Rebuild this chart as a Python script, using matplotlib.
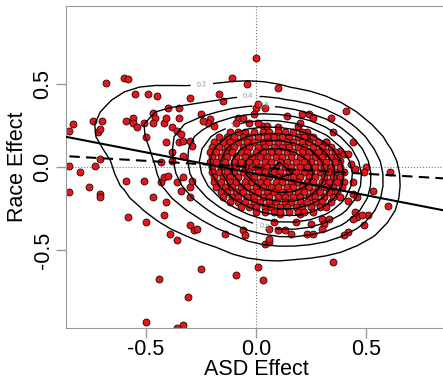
import numpy as np
import matplotlib
matplotlib.use("Agg")
import matplotlib.pyplot as plt

plt.rcParams['font.family'] = ['Liberation Sans', 'DejaVu Sans']
plt.rcParams['axes.unicode_minus'] = False

# scattered points around the main cloud
outer_x = [-0.68, -0.60, -0.58, -0.55, -0.49, -0.45, -0.30, -0.85, -0.83, -0.74,
           -0.70, -0.72, -0.71, -0.59, -0.56, -0.56, -0.54, -0.51, -0.47, -0.46,
           -0.47, -0.42, -0.40, -0.41, -0.35, -0.35, -0.38, -0.41, -0.85, -0.80,
           -0.73, -0.71, -0.59, -0.51, -0.43, -0.38, -0.38, -0.76, -0.85, -0.71,
           -0.71, -0.58, -0.47, -0.41, -0.42, -0.50, -0.43, -0.42, -0.40, -0.36,
           -0.35, -0.33, -0.36, -0.34, -0.30, -0.29, -0.33, -0.30, -0.30, -0.29,
           -0.34, -0.33, -0.50, -0.39, -0.36, -0.30, -0.28, -0.44, -0.31, -0.50,
           -0.33, -0.36, -0.25, -0.09, 0.01, 0.03, -0.14, -0.06, -0.05, 0.04,
           0.06, 0.06, 0.10, 0.13, 0.16, 0.23, 0.26, 0.06, 0.08, 0.18,
           0.25, 0.30, -0.27, 0.11, 0.20, 0.35, 0.60, 0.51, 0.49, 0.42,
           0.40, 0.46, 0.45, 0.44, 0.33, 0.31, 0.30, 0.53, 0.44, 0.35,
           0.32, 0.44, 0.38, 0.40, 0.42, 0.38, 0.43, 0.45, 0.50, 0.49,
           0.61, 0.44, 0.46, 0.48, 0.42, 0.00, -0.11, -0.04, 0.10, -0.15,
           -0.17, 0.00, 0.01, 0.04, 0.41, 0.14, 0.21, 0.24, 0.26, 0.34,
           -0.01, -0.08, -0.06, -0.09, 0.19, 0.20, 0.10, 0.23, 0.25, 0.30,
           0.27, 0.31, 0.03, 0.05, 0.01, -0.25, -0.21, -0.22, -0.24, -0.19,
           -0.03]
outer_y = [0.51, 0.54, 0.53, 0.44, 0.44, 0.43, 0.42, 0.22, 0.26, 0.28,
           0.28, 0.21, 0.23, 0.28, 0.30, 0.27, 0.24, 0.27, 0.33, 0.30,
           0.27, 0.27, 0.36, 0.30, 0.36, 0.30, 0.24, 0.15, 0.01, -0.03,
           0.01, 0.05, -0.08, -0.08, 0.03, 0.04, 0.09, -0.12, -0.15, -0.16,
           -0.18, -0.30, -0.18, -0.21, -0.29, 0.18, -0.09, -0.06, -0.05, -0.09,
           0.15, 0.16, 0.22, 0.20, 0.16, 0.13, -0.06, -0.12, -0.18, -0.08,
           -0.14, 0.07, -0.33, -0.40, -0.44, -0.35, -0.38, -0.67, -0.78, -0.93,
           -0.95, -0.97, -0.61, -0.65, -0.60, -0.68, -0.40, -0.38, -0.41, -0.46,
           -0.45, -0.43, -0.38, -0.38, -0.40, -0.40, -0.40, -0.37, -0.33, -0.33,
           -0.34, -0.31, -0.37, -0.28, -0.28, -0.57, -0.23, -0.29, -0.35, -0.39,
           -0.41, -0.30, -0.27, -0.31, -0.31, -0.34, -0.37, -0.14, -0.16, 0.21,
           0.15, 0.15, 0.10, 0.08, 0.08, 0.04, 0.02, -0.01, 0.00, -0.03,
           -0.03, -0.09, -0.18, -0.29, -0.20, 0.66, 0.54, 0.50, 0.48, 0.40,
           0.44, 0.36, 0.38, 0.36, 0.34, 0.31, 0.32, 0.32, 0.30, 0.30,
           0.32, 0.30, 0.30, 0.27, 0.25, 0.27, 0.24, 0.21, 0.18, 0.13,
           0.09, 0.08, 0.25, 0.25, 0.27, 0.32, 0.29, 0.27, 0.28, 0.25,
           0.27]

# the dense cloud, row by row (points overlap, so these are estimates)
blob_row_y = [0.21, 0.18, 0.15, 0.12, 0.09, 0.06, 0.03, 0.00, -0.03,
              -0.06, -0.09, -0.12, -0.15, -0.18, -0.21, -0.24, -0.27]
blob_row_x = [
    [-0.12, -0.08, -0.05, -0.01, 0.03, 0.06, 0.10, 0.13, 0.17, 0.21],
    [-0.17, -0.13, -0.10, -0.06, -0.03, 0.01, 0.05, 0.08, 0.12, 0.15, 0.19, 0.22, 0.26],
    [-0.19, -0.15, -0.12, -0.08, -0.04, -0.01, 0.03, 0.06, 0.10, 0.14, 0.17, 0.21, 0.24, 0.28, 0.32],
    [-0.20, -0.17, -0.13, -0.10, -0.06, -0.03, 0.01, 0.04, 0.08, 0.12, 0.15, 0.19, 0.22, 0.26, 0.30, 0.34],
    [-0.21, -0.18, -0.14, -0.11, -0.07, -0.04, 0.00, 0.03, 0.07, 0.10, 0.14, 0.17, 0.21, 0.24, 0.28, 0.32, 0.36],
    [-0.20, -0.16, -0.13, -0.09, -0.05, -0.02, 0.02, 0.05, 0.09, 0.12, 0.16, 0.20, 0.23, 0.27, 0.30, 0.34, 0.37],
    [-0.21, -0.18, -0.14, -0.10, -0.07, -0.03, 0.00, 0.04, 0.07, 0.11, 0.14, 0.18, 0.22, 0.25, 0.29, 0.32, 0.36],
    [-0.20, -0.16, -0.12, -0.09, -0.05, -0.02, 0.02, 0.05, 0.09, 0.13, 0.16, 0.20, 0.23, 0.27, 0.31, 0.34, 0.38],
    [-0.20, -0.17, -0.13, -0.10, -0.06, -0.03, 0.01, 0.04, 0.08, 0.11, 0.15, 0.18, 0.22, 0.25, 0.29, 0.33, 0.36, 0.40],
    [-0.19, -0.15, -0.12, -0.08, -0.04, -0.01, 0.03, 0.06, 0.10, 0.13, 0.17, 0.20, 0.24, 0.27, 0.31, 0.35, 0.38],
    [-0.19, -0.16, -0.12, -0.09, -0.05, -0.02, 0.02, 0.05, 0.09, 0.12, 0.16, 0.19, 0.23, 0.26, 0.30, 0.33, 0.37, 0.40],
    [-0.18, -0.14, -0.11, -0.07, -0.04, 0.00, 0.03, 0.07, 0.10, 0.14, 0.17, 0.21, 0.24, 0.28, 0.32, 0.35, 0.39],
    [-0.16, -0.13, -0.09, -0.06, -0.02, 0.01, 0.05, 0.08, 0.12, 0.15, 0.19, 0.22, 0.26, 0.29, 0.33, 0.37],
    [-0.15, -0.11, -0.08, -0.04, -0.01, 0.03, 0.06, 0.10, 0.13, 0.17, 0.20, 0.24, 0.27, 0.31, 0.35, 0.38],
    [-0.12, -0.08, -0.05, -0.01, 0.02, 0.06, 0.09, 0.13, 0.16, 0.20, 0.23, 0.27, 0.30, 0.34],
    [-0.07, -0.03, 0.00, 0.04, 0.07, 0.11, 0.14, 0.18, 0.21, 0.25, 0.29, 0.32],
    [0.00, 0.04, 0.08, 0.11, 0.15, 0.19, 0.22, 0.26],
]

# contour labels seen in the picture: level and where it sits
label_levels = [0.2, 0.4, 0.6, 1.0, 0.8]
label_spots = [(-0.24, 0.57), (-0.06, 0.50), (0.07, 0.40), (-0.15, 0.29), (0.02, -0.37)]

# fitted lines: solid and dashed
fit_intercept, fit_slope = -0.039, -0.258
fit2_intercept, fit2_slope = 0.0, -0.078

bw_x, bw_y = 0.15, 0.14


def rows_to_points(row_y, row_x):
    xs, ys = [], []
    for y, row in zip(row_y, row_x):
        xs.extend(row)
        ys.extend([y] * len(row))
    return xs, ys


bx, by = rows_to_points(blob_row_y, blob_row_x)
px = np.array(outer_x + bx)
py = np.array(outer_y + by)

# 2d gaussian kernel density on a coarse grid
gx = np.linspace(-0.95, 0.95, 28)
gy = np.linspace(-1.0, 1.0, 28)
kx = np.exp(-0.5 * ((gx[:, None] - px[None, :]) / bw_x) ** 2) / (np.sqrt(2 * np.pi) * bw_x)
ky = np.exp(-0.5 * ((gy[:, None] - py[None, :]) / bw_y) ** 2) / (np.sqrt(2 * np.pi) * bw_y)
dens = ky @ kx.T / len(px)
levels = np.round(np.arange(0.2, dens.max(), 0.2), 1)

fig = plt.figure(figsize=(4.43, 3.83), dpi=100)
ax = fig.add_axes([66 / 443, 55 / 383, 380 / 443, 322 / 383])

ax.axhline(0, color='#777777', lw=0.8, ls=':', zorder=1)
ax.axvline(0, color='#777777', lw=0.8, ls=':', zorder=1)

ax.scatter(px, py, s=26, c='#e3161b', edgecolors='black', linewidths=0.5, zorder=2)

cs = ax.contour(gx, gy, dens, levels=levels, colors='black', linewidths=1.0, zorder=3)

# put each label on its own contour, at the vertex closest to where it is in the picture
spots = []
for lv, (sx, sy) in zip(label_levels, label_spots):
    idx = np.where(np.isclose(levels, lv))[0]
    if len(idx) == 0 or len(cs.allsegs[idx[0]]) == 0:
        continue
    verts = np.concatenate(cs.allsegs[idx[0]])
    d = ((verts[:, 0] - sx) * 220) ** 2 + ((verts[:, 1] - sy) * 166) ** 2
    spots.append(tuple(verts[np.argmin(d)]))
ax.clabel(cs, inline=True, fontsize=5.5, colors='#999999', fmt='%g', manual=spots)

xline = np.array([-1.0, 1.0])
ax.plot(xline, fit_intercept + fit_slope * xline, color='black', lw=1.5, zorder=4)
ax.plot(xline, fit2_intercept + fit2_slope * xline, color='black', lw=1.5,
        dashes=(5, 3), zorder=4)

ax.set_xlim(-0.864, 0.864)
ax.set_ylim(-0.968, 0.972)
ax.set_xticks([-0.5, 0.0, 0.5])
ax.set_xticklabels(['-0.5', '0.0', '0.5'])
ax.set_yticks([-0.5, 0.0, 0.5])
ax.set_yticklabels(['-0.5', '0.0', '0.5'])

for side in ['left', 'bottom', 'top']:
    ax.spines[side].set_color('#999999')
ax.spines['right'].set_visible(False)
ax.tick_params(direction='out', length=7, width=1, color='#999999', labelsize=15.5)
ax.tick_params(axis='x', pad=1)
ax.tick_params(axis='y', pad=2, labelrotation=90)
for lab in ax.get_yticklabels():
    lab.set_va('center')

ax.set_xlabel('ASD Effect', fontsize=15.5, labelpad=-1)
ax.set_ylabel('Race Effect', fontsize=15.5, labelpad=3)

fig.savefig('out.png', dpi=100)
